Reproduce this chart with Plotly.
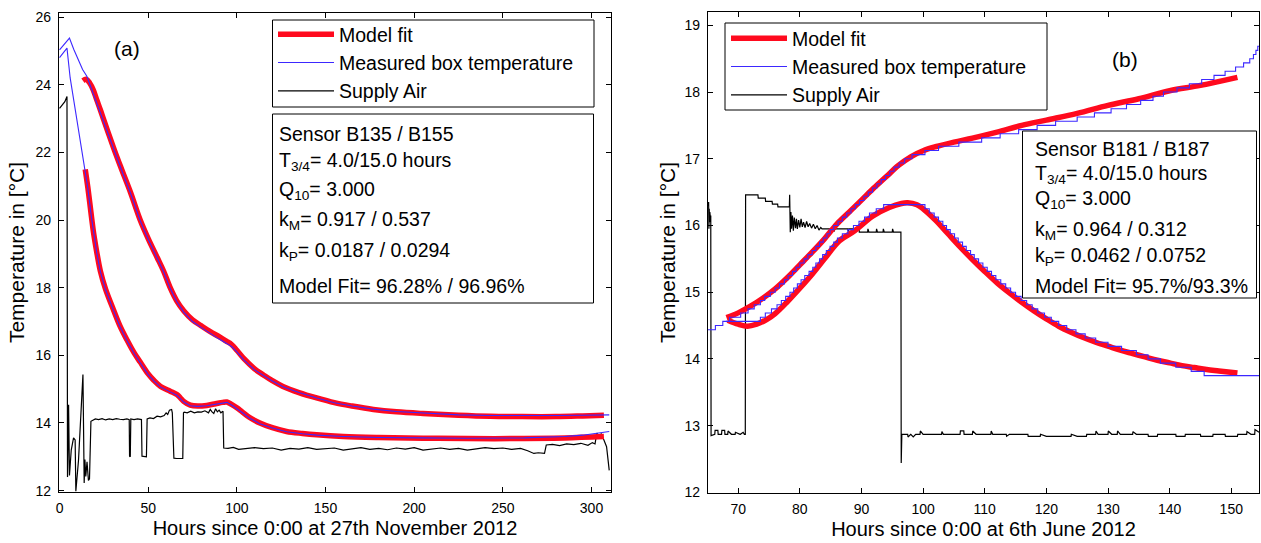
import plotly.graph_objects as go

# ---------------- data: panel (a) ----------------
A_FIT_UPPER_X = [13.2, 15, 17, 19, 21, 23, 25, 28, 31.4, 35, 40, 45.5, 50, 55, 58.6, 62.4, 66, 70, 75, 80,
                 85, 90, 94, 97, 100, 104, 110, 115, 120, 126, 135, 145, 155, 165, 177, 190, 205, 225, 243,
                 260, 280, 295, 307]
A_FIT_UPPER_Y = [24.12, 24.16, 24.05, 23.85, 23.55, 23.26, 22.95, 22.5, 22.0, 21.5, 20.82, 20.0, 19.45, 18.9,
                 18.5, 18.0, 17.62, 17.32, 17.05, 16.87, 16.7, 16.55, 16.42, 16.32, 16.15, 15.9, 15.6, 15.42,
                 15.25, 15.08, 14.9, 14.74, 14.6, 14.5, 14.4, 14.33, 14.28, 14.23, 14.2, 14.19, 14.19, 14.21,
                 14.23]

A_FIT_LOWER_X = [14.5, 16, 18, 19.2, 21, 23, 26, 30.4, 34, 38, 42, 45.5, 50, 53, 57, 62.4, 66.2, 68, 70, 73.7,
                 78, 83, 88, 92, 94.4, 97, 100, 103, 107, 113, 120, 128, 137, 145, 160, 180, 205, 230, 262,
                 285, 307]
A_FIT_LOWER_Y = [21.5, 20.95, 20.1, 19.62, 19.05, 18.5, 17.95, 17.35, 16.88, 16.46, 16.08, 15.8, 15.45, 15.27,
                 15.08, 14.94, 14.84, 14.75, 14.64, 14.53, 14.5, 14.52, 14.57, 14.61, 14.62, 14.55, 14.45,
                 14.33, 14.17, 14.0, 13.86, 13.75, 13.69, 13.65, 13.6, 13.57, 13.55, 13.54, 13.54, 13.56, 13.6]

A_MEAS_UPPER_X = [0, 2, 4, 5.6, 8, 11, 13, 15.4, 17, 19, 21, 23, 25, 28, 31.4, 35, 40, 45.5, 50, 55, 58.6,
                  62.4, 66, 70, 75, 80, 85, 90, 94, 97, 100, 104, 110, 115, 120, 126, 135, 145, 155, 165, 177,
                  190, 205, 225, 243, 260, 280, 295, 310]
A_MEAS_UPPER_Y = [25.03, 25.15, 25.3, 25.38, 25.05, 24.69, 24.45, 24.25, 24.02, 23.78, 23.5, 23.22, 22.92,
                  22.47, 21.97, 21.47, 20.8, 19.98, 19.43, 18.88, 18.48, 17.98, 17.6, 17.28, 17.0, 16.82, 16.64,
                  16.48, 16.36, 16.26, 16.1, 15.86, 15.57, 15.4, 15.24, 15.07, 14.9, 14.74, 14.6, 14.5, 14.41,
                  14.34, 14.29, 14.24, 14.22, 14.21, 14.22, 14.23, 14.24]

A_MEAS_LOWER_X = [0, 2, 4.2, 6, 7.9, 10, 11.7, 14.1, 16, 18, 19.2, 21, 23, 26, 30.4, 34, 38, 42, 45.5, 50, 53,
                  57, 62.4, 66.2, 68, 70, 73.7, 78, 83, 88, 92, 94.4, 97, 100, 103, 107, 113, 120, 128, 137,
                  145, 160, 180, 205, 230, 262, 285, 295, 300, 305, 310]
A_MEAS_LOWER_Y = [24.8, 24.95, 25.08, 24.2, 23.56, 22.9, 22.28, 21.54, 20.93, 20.08, 19.6, 19.03, 18.48, 17.93,
                  17.33, 16.86, 16.44, 16.06, 15.78, 15.43, 15.25, 15.06, 14.92, 14.82, 14.73, 14.62, 14.51,
                  14.49, 14.51, 14.56, 14.6, 14.61, 14.53, 14.43, 14.31, 14.15, 13.98, 13.85, 13.74, 13.68,
                  13.64, 13.6, 13.57, 13.56, 13.55, 13.56, 13.6, 13.64, 13.68, 13.72, 13.75]

A_SUPPLY = [(0, 23.3), (1.5, 23.4), (3, 23.5), (4.2, 23.65), (4.5, 12.4), (5.1, 14.54), (5.6, 12.45),
            (6.6, 13.2), (7.9, 13.56), (8.8, 13.5), (9.2, 11.98), (10.7, 12.9), (13.2, 15.43), (13.9, 12.23),
            (14.3, 12.92), (14.8, 12.42), (15.5, 12.85), (16.3, 12.3), (16.9, 12.35), (17.7, 14.05),
            (19, 14.08), (20.2, 14.12), (22, 14.1), (24, 14.13), (26, 14.09), (28, 14.12), (30, 14.1),
            (32, 14.13), (34, 14.11), (36, 14.1), (38, 14.12), (39.3, 14.1), (39.5, 13.02), (39.9, 13.0),
            (40.2, 14.12), (42, 14.1), (44, 14.12), (46.2, 14.1), (46.5, 13.02), (49.0, 13.0), (49.4, 14.12),
            (51, 14.15), (53, 14.13), (55, 14.2), (57, 14.18), (59, 14.22), (60.1, 14.3), (61, 14.25),
            (62, 14.38), (63.2, 14.4), (63.6, 14.3), (64.2, 13.0), (64.5, 12.96), (66, 12.95), (68, 12.95),
            (69.5, 12.95), (69.9, 14.3), (70.3, 14.32), (72, 14.3), (74, 14.35), (76, 14.3), (78, 14.33),
            (80, 14.32), (82, 14.36), (84, 14.3), (85, 14.4), (86, 14.33), (87, 14.28), (88, 14.42),
            (89, 14.33), (90, 14.38), (91, 14.3), (92.2, 14.35), (92.6, 13.26), (95, 13.25), (98, 13.28),
            (101, 13.22), (105, 13.25), (110, 13.27), (115, 13.24), (120, 13.26), (125, 13.2), (130, 13.25),
            (135, 13.23), (140, 13.27), (145, 13.22), (150, 13.24), (155, 13.26), (160, 13.2), (165, 13.24),
            (170, 13.27), (175, 13.22), (180, 13.25), (185, 13.21), (190, 13.26), (195, 13.23), (200, 13.27),
            (205, 13.2), (210, 13.24), (215, 13.26), (220, 13.22), (225, 13.25), (230, 13.2), (235, 13.23),
            (240, 13.27), (245, 13.24), (250, 13.26), (255, 13.22), (260, 13.25), (264, 13.18),
            (267.5, 13.1), (270, 13.12), (273.5, 13.1), (274.5, 13.35), (278, 13.37), (282, 13.33),
            (286, 13.38), (290, 13.36), (294, 13.4), (298, 13.34), (300.5, 13.42), (302, 13.38),
            (303, 13.7), (304, 13.62), (305.5, 13.68), (307, 13.5), (308.5, 13.3), (310, 12.6)]

# ---------------- data: panel (b) ----------------
B_FIT_UPPER_X = [68.1, 70, 72, 74, 76, 78, 80, 82, 84, 86, 88, 90, 92, 94, 96, 98, 100, 102, 105, 108, 112,
                 116, 120, 125, 130, 135, 140, 145, 151]
B_FIT_UPPER_Y = [14.62, 14.69, 14.79, 14.91, 15.05, 15.22, 15.41, 15.6, 15.8, 16.02, 16.2, 16.38, 16.56,
                 16.73, 16.9, 17.03, 17.12, 17.18, 17.25, 17.31, 17.4, 17.5, 17.58, 17.68, 17.8, 17.9, 18.02,
                 18.1, 18.22]

B_FIT_LOWER_X = [68.3, 70, 71.5, 73, 74.6, 76, 78, 80, 82, 84, 86.4, 88.9, 91.8, 94.5, 96.5, 97.5, 99, 100,
                 102, 104, 106, 108, 110, 112, 114, 116, 118, 120, 122, 124, 126, 128, 130, 132, 134, 136,
                 138, 140, 142, 144, 146, 148, 151]
B_FIT_LOWER_Y = [14.58, 14.52, 14.49, 14.52, 14.59, 14.68, 14.86, 15.06, 15.27, 15.5, 15.77, 15.92, 16.14,
                 16.27, 16.33, 16.34, 16.31, 16.25, 16.08, 15.88, 15.68, 15.49, 15.31, 15.14, 14.99, 14.85,
                 14.72, 14.6, 14.49, 14.4, 14.32, 14.25, 14.19, 14.13, 14.08, 14.03, 13.98, 13.94, 13.9, 13.87,
                 13.84, 13.82, 13.79]

B_MEAS_UPPER_X = [65.1, 66.3, 67.5, 68.6, 70.4, 71.6, 72.6, 73.6, 74.3, 75.2, 76.0, 76.7, 77.5, 78.1, 78.8,
                  79.4, 80.0, 80.7, 81.3, 82.0, 82.6, 83.2, 83.8, 84.4, 84.9, 85.5, 86.2, 86.9, 87.6, 88.3,
                  89.0, 89.7, 90.4, 91.1, 91.8, 92.5, 93.2, 93.9, 94.6, 95.3, 96.1, 97.0, 98.2, 100.3, 102.5,
                  105.8, 109.5, 112.5, 115.5, 118.5, 121.5, 125.0, 127.8, 130.5, 133.0, 135.3, 137.3, 139.0,
                  141.2, 143.2, 145.2, 147.2, 149.0, 150.7, 152.0, 153.0, 153.6, 154.0, 154.3, 154.5]
B_MEAS_UPPER_Y = [14.4375, 14.5, 14.5625, 14.625, 14.6875, 14.75, 14.8125, 14.875, 14.9375, 15.0, 15.0625,
                  15.125, 15.1875, 15.25, 15.3125, 15.375, 15.4375, 15.5, 15.5625, 15.625, 15.6875, 15.75,
                  15.8125, 15.875, 15.9375, 16.0, 16.0625, 16.125, 16.1875, 16.25, 16.3125, 16.375, 16.4375,
                  16.5, 16.5625, 16.625, 16.6875, 16.75, 16.8125, 16.875, 16.9375, 17.0, 17.0625, 17.125,
                  17.1875, 17.25, 17.3125, 17.375, 17.4375, 17.5, 17.5625, 17.625, 17.6875, 17.75, 17.8125,
                  17.875, 17.9375, 18.0, 18.0625, 18.125, 18.1875, 18.25, 18.3125, 18.375, 18.4375, 18.5,
                  18.5625, 18.625, 18.6875, 18.6875]

B_MEAS_LOWER_X = [68.0, 73.6, 74.4, 75.4, 76.3, 77.0, 77.7, 78.4, 79.0, 79.6, 80.2, 80.8, 81.5, 82.1, 82.6,
                  83.2, 83.7, 84.3, 84.9, 85.5, 86.1, 86.9, 87.8, 88.7, 89.6, 90.5, 91.3, 92.4, 93.6, 95.2,
                  100.3, 101.0, 101.8, 102.5, 103.2, 103.8, 104.4, 105.1, 105.7, 106.4, 107.0, 107.7, 108.3,
                  109.0, 109.7, 110.4, 111.1, 111.8, 112.6, 113.4, 114.2, 115.0, 115.9, 116.8, 117.7, 118.6,
                  119.7, 120.8, 122.0, 123.3, 124.8, 126.3, 128.0, 130.0, 132.2, 134.6, 136.5, 138.5, 141.0,
                  143.5, 145.6, 154.5]
B_MEAS_LOWER_Y = [14.5625, 14.625, 14.6875, 14.75, 14.8125, 14.875, 14.9375, 15.0, 15.0625, 15.125, 15.1875,
                  15.25, 15.3125, 15.375, 15.4375, 15.5, 15.5625, 15.625, 15.6875, 15.75, 15.8125, 15.875,
                  15.9375, 16.0, 16.0625, 16.125, 16.1875, 16.25, 16.3125, 16.3125, 16.25, 16.1875, 16.125,
                  16.0625, 16.0, 15.9375, 15.875, 15.8125, 15.75, 15.6875, 15.625, 15.5625, 15.5, 15.4375,
                  15.375, 15.3125, 15.25, 15.1875, 15.125, 15.0625, 15.0, 14.9375, 14.875, 14.8125, 14.75,
                  14.6875, 14.625, 14.5625, 14.5, 14.4375, 14.375, 14.3125, 14.25, 14.1875, 14.125, 14.0625,
                  14.0, 13.9375, 13.875, 13.8125, 13.75, 13.75]

B_SUPPLY = [(65.1, 16.3), (65.15, 16.0), (65.2, 16.35), (65.25, 15.95), (65.3, 16.25), (65.35, 16.05),
            (65.4, 16.2), (65.5, 16.1), (65.55, 16.15), (65.6, 12.85), (66.2, 12.87), (66.25, 12.93),
            (66.7, 12.93), (66.75, 12.87), (67.3, 12.87), (67.35, 12.93), (67.8, 12.93), (67.85, 12.87),
            (68.3, 12.87), (68.35, 12.92), (68.9, 12.87), (69.5, 12.87), (69.55, 12.9), (70.3, 12.87),
            (70.35, 12.87), (70.8, 12.9), (71.0, 12.87), (71.15, 12.87), (71.2, 16.46), (73.2, 16.46),
            (73.25, 16.41), (74.4, 16.41), (74.45, 16.36), (75.5, 16.36), (75.55, 16.32), (76.4, 16.32),
            (76.45, 16.28), (78.3, 16.28), (78.35, 16.46), (78.45, 15.9), (78.55, 16.2), (78.65, 15.95),
            (78.8, 16.15), (78.95, 15.92), (79.1, 16.12), (79.3, 15.96), (79.45, 16.1), (79.6, 15.95),
            (79.8, 16.08), (80.0, 15.97), (80.2, 16.1), (80.4, 15.98), (80.6, 16.05), (80.85, 15.97),
            (81.1, 16.06), (81.35, 15.98), (81.6, 16.03), (81.9, 15.96), (82.2, 16.02), (82.5, 15.95),
            (82.8, 16.0), (83.1, 15.93), (83.4, 15.97), (83.6, 15.95), (85.5, 15.95), (85.55, 15.91),
            (85.7, 15.95), (87.8, 15.95), (87.85, 15.91), (88.0, 15.95), (89.6, 15.95), (89.65, 15.9),
            (91.0, 15.9), (91.05, 15.95), (91.2, 15.9), (92.4, 15.9), (92.45, 15.95), (92.6, 15.9),
            (93.5, 15.9), (93.55, 15.95), (93.7, 15.9), (95.0, 15.9), (95.05, 15.95), (95.2, 15.9),
            (96.4, 15.9), (96.45, 12.44), (96.55, 12.87), (97.5, 12.87), (97.55, 12.83), (98.0, 12.87),
            (98.4, 12.83), (98.8, 12.87), (99.5, 12.87), (99.55, 12.92), (100.0, 12.87), (103.0, 12.87),
            (103.05, 12.91), (103.3, 12.87), (106.0, 12.87), (106.05, 12.92), (106.6, 12.92),
            (106.65, 12.87), (108.0, 12.87), (108.05, 12.92), (108.6, 12.87), (111.0, 12.87),
            (111.05, 12.92), (111.3, 12.87), (113.5, 12.87), (113.55, 12.84), (114.0, 12.87), (117.0, 12.87),
            (117.05, 12.84), (119.0, 12.84), (119.05, 12.87), (120.0, 12.84), (124.0, 12.84), (124.05, 12.87),
            (125.0, 12.84), (126.5, 12.84), (126.55, 12.87), (128.0, 12.87), (128.05, 12.92), (128.4, 12.87),
            (130.0, 12.87), (130.05, 12.92), (130.6, 12.87), (131.5, 12.87), (131.55, 12.92), (132.0, 12.87),
            (134.0, 12.87), (134.05, 12.91), (134.6, 12.87), (136.5, 12.87), (136.55, 12.84),
            (138.0, 12.84), (138.05, 12.87), (141.0, 12.87), (141.05, 12.84), (142.5, 12.84),
            (142.55, 12.87), (145.0, 12.87), (145.05, 12.84), (147.0, 12.84), (147.05, 12.87),
            (149.0, 12.87), (149.05, 12.84), (151.0, 12.84), (151.05, 12.87), (152.5, 12.87),
            (152.55, 12.91), (153.2, 12.87), (153.8, 12.87), (153.85, 12.94), (154.5, 12.9)]

LEGEND_NAMES = ["Model fit", "Measured box temperature", "Supply Air"]
BOX_A_LINES = ["Sensor B135 / B155", "T<sub>3/4</sub>= 4.0/15.0 hours", "Q<sub>10</sub>= 3.000",
               "k<sub>M</sub>= 0.917 / 0.537", "k<sub>P</sub>= 0.0187 / 0.0294",
               "Model Fit= 96.28% / 96.96%"]
BOX_B_LINES = ["Sensor B181 / B187", "T<sub>3/4</sub>= 4.0/15.0 hours", "Q<sub>10</sub>= 3.000",
               "k<sub>M</sub>= 0.964 / 0.312", "k<sub>P</sub>= 0.0462 / 0.0752",
               "Model Fit= 95.7%/93.3%"]

# ---------------- figure ----------------
W, H = 1261, 543
FONT = "Liberation Sans, Arial, Helvetica, sans-serif"
RED = "#ff0a1e"
BLUE = "#3c28ff"
BLACK = "#000000"


def fx(p):
    return p / W


def fy(p):
    return 1 - p / H


fig = go.Figure()

for xa, ya, leg, fitU, fitL, measU, measL, sup, shape in [
    ("x", "y", "legend", (A_FIT_UPPER_X, A_FIT_UPPER_Y), (A_FIT_LOWER_X, A_FIT_LOWER_Y),
     (A_MEAS_UPPER_X, A_MEAS_UPPER_Y), (A_MEAS_LOWER_X, A_MEAS_LOWER_Y), A_SUPPLY, "linear"),
    ("x2", "y2", "legend2", (B_FIT_UPPER_X, B_FIT_UPPER_Y), (B_FIT_LOWER_X, B_FIT_LOWER_Y),
     (B_MEAS_UPPER_X, B_MEAS_UPPER_Y), (B_MEAS_LOWER_X, B_MEAS_LOWER_Y), B_SUPPLY, "hv"),
]:
    sx = [p[0] for p in sup]
    sy = [p[1] for p in sup]
    fig.add_trace(go.Scatter(x=sx, y=sy, mode="lines", line=dict(color=BLACK, width=1.2),
                             name=LEGEND_NAMES[2], legend=leg, legendrank=3, xaxis=xa, yaxis=ya))
    fig.add_trace(go.Scatter(x=fitU[0], y=fitU[1], mode="lines", line=dict(color=RED, width=5.5),
                             name=LEGEND_NAMES[0], legend=leg, legendrank=1, xaxis=xa, yaxis=ya,
                             line_shape="spline"))
    fig.add_trace(go.Scatter(x=fitL[0], y=fitL[1], mode="lines", line=dict(color=RED, width=5.5),
                             name=LEGEND_NAMES[0], showlegend=False, legend=leg, xaxis=xa, yaxis=ya,
                             line_shape="spline"))
    fig.add_trace(go.Scatter(x=measU[0], y=measU[1], mode="lines", line=dict(color=BLUE, width=1.1, shape=shape),
                             name=LEGEND_NAMES[1], legend=leg, legendrank=2, xaxis=xa, yaxis=ya))
    fig.add_trace(go.Scatter(x=measL[0], y=measL[1], mode="lines", line=dict(color=BLUE, width=1.1, shape=shape),
                             name=LEGEND_NAMES[1], showlegend=False, legend=leg, xaxis=xa, yaxis=ya))

axis_common = dict(showgrid=False, zeroline=False, showline=True, mirror="ticks", linecolor="black",
                   linewidth=1.3, ticks="inside", ticklen=5, tickcolor="black", tickwidth=1,
                   automargin=False,
                   tickfont=dict(family=FONT, size=14, color="black"))
xtitle_font = dict(family=FONT, size=20, color="black")
ytitle_font = dict(family=FONT, size=21, color="black")
legend_font = dict(family=FONT, size=19.5, color="black")

fig.update_layout(
    width=W, height=H, autosize=False,
    margin=dict(l=0, r=0, t=0, b=0, pad=0),
    paper_bgcolor="white", plot_bgcolor="white",
    showlegend=True,
    xaxis=dict(domain=[fx(59), fx(611)], range=[-0.3, 311], tickvals=[0, 50, 100, 150, 200, 250, 300],
               anchor="y", ticklabelstandoff=3,
               title=dict(text="Hours since 0:00 at 27th November 2012", font=xtitle_font, standoff=6),
               **axis_common),
    yaxis=dict(domain=[fy(492), fy(13)], range=[11.96, 26.12], tickvals=[12, 14, 16, 18, 20, 22, 24, 26],
               anchor="x", ticklabelstandoff=4,
               title=dict(text="Temperature in [°C]", font=ytitle_font, standoff=5),
               **axis_common),
    xaxis2=dict(domain=[fx(708), fx(1259)], range=[65.1, 154.5],
                tickvals=[70, 80, 90, 100, 110, 120, 130, 140, 150], anchor="y2", ticklabelstandoff=3,
                title=dict(text="Hours since 0:00 at 6th June 2012", font=xtitle_font, standoff=6),
                **axis_common),
    yaxis2=dict(domain=[fy(493), fy(12)], range=[11.99, 19.2], tickvals=[12, 13, 14, 15, 16, 17, 18, 19],
                anchor="x2", ticklabelstandoff=4,
                title=dict(text="Temperature in [°C]", font=ytitle_font, standoff=3),
                **axis_common),
    legend=dict(x=fx(273), y=fy(15), xanchor="left", yanchor="top", bgcolor="rgba(0,0,0,0)",
                borderwidth=0, font=legend_font, itemwidth=56, tracegroupgap=0),
    legend2=dict(x=fx(726), y=fy(19), xanchor="left", yanchor="top", bgcolor="rgba(0,0,0,0)",
                 borderwidth=0, font=legend_font, itemwidth=56, tracegroupgap=0),
)

shapes = [
    # legend frames
    dict(type="rect", xref="paper", yref="paper", x0=fx(272.5), x1=fx(594), y0=fy(107), y1=fy(20),
         line=dict(color="black", width=1), fillcolor="white", layer="above"),
    dict(type="rect", xref="paper", yref="paper", x0=fx(725), x1=fx(1047), y0=fy(110), y1=fy(23),
         line=dict(color="black", width=1), fillcolor="white", layer="above"),
    # parameter text boxes
    dict(type="rect", xref="paper", yref="paper", x0=fx(272.5), x1=fx(593.5), y0=fy(303), y1=fy(114),
         line=dict(color="black", width=1), fillcolor="white", layer="above"),
    dict(type="rect", xref="paper", yref="paper", x0=fx(1022.5), x1=fx(1256.5), y0=fy(298), y1=fy(131),
         line=dict(color="black", width=1), fillcolor="white", layer="above"),
]
fig.update_layout(shapes=shapes)

annotations = []
A_LINE_Y = [134, 161, 190, 221, 251, 286]
B_LINE_Y = [149, 174, 200, 230, 256, 286]
for text, ypix in zip(BOX_A_LINES, A_LINE_Y):
    annotations.append(dict(text=text, x=fx(277), y=fy(ypix), xref="paper", yref="paper", xanchor="left",
                            yanchor="middle", showarrow=False, font=legend_font))
for text, ypix in zip(BOX_B_LINES, B_LINE_Y):
    annotations.append(dict(text=text, x=fx(1033), y=fy(ypix), xref="paper", yref="paper", xanchor="left",
                            yanchor="middle", showarrow=False, font=legend_font))
annotations.append(dict(text="(a)", x=fx(127), y=fy(49), xref="paper", yref="paper", showarrow=False,
                        xanchor="center", yanchor="middle", font=dict(family=FONT, size=21, color="black")))
annotations.append(dict(text="(b)", x=fx(1125), y=fy(60), xref="paper", yref="paper", showarrow=False,
                        xanchor="center", yanchor="middle", font=dict(family=FONT, size=21, color="black")))
fig.update_layout(annotations=annotations)

fig.write_html("out.html", config={"displayModeBar": False},
               post_script="document.body.style.margin='0px';")
